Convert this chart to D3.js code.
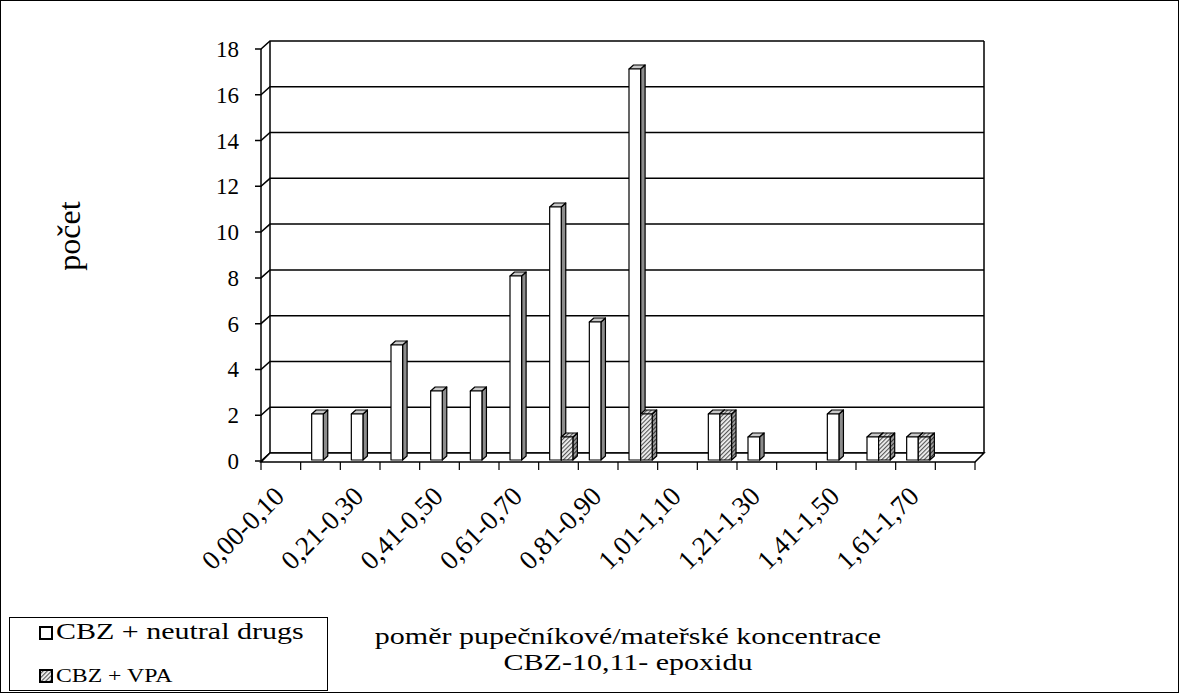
<!DOCTYPE html>
<html lang="cs">
  <head>
    <meta charset="UTF-8" />
    <title>Poměr pupečníkové/mateřské koncentrace CBZ-10,11-epoxidu</title>
    <style>
      body {
        margin: 0;
        background: #fff;
      }
      svg {
        display: block;
        font-family: 'Liberation Serif', 'Times New Roman', serif;
      }
    </style>
  </head>
  <body>
    <svg width="1180" height="694"></svg>
    <script src="https://cdn.jsdelivr.net/npm/d3@7"></script>
    <script>
      const categories = [
        '0,00-0,10', '0,11-0,20', '0,21-0,30', '0,31-0,40', '0,41-0,50',
        '0,51-0,60', '0,61-0,70', '0,71-0,80', '0,81-0,90', '0,91-1,00',
        '1,01-1,10', '1,11-1,20', '1,21-1,30', '1,31-1,40', '1,41-1,50',
        '1,51-1,60', '1,61-1,70', '1,71-1,80'
      ];
      const neutralDrugs = [0, 2, 2, 5, 3, 3, 8, 11, 6, 17, 0, 2, 1, 0, 2, 1, 1, 0];
      const vpa = [0, 0, 0, 0, 0, 0, 0, 1, 0, 2, 0, 2, 0, 0, 0, 1, 1, 0];
      const yTicks = [0, 2, 4, 6, 8, 10, 12, 14, 16, 18];
      const seriesNames = ['CBZ + neutral drugs', 'CBZ + VPA'];
      const yTitle = 'počet';
      const xTitle = ['poměr pupečníkové/mateřské koncentrace', 'CBZ-10,11- epoxidu'];

      const svg = d3.select('svg'),
        width = +svg.attr('width'),
        height = +svg.attr('height');

      // 3d offsets: wall depth and bar depth
      const wdx = 9, wdy = 8;
      const bdx = 4.5, bdy = 4;

      const x = d3.scaleBand().domain(categories).range([261, 975]);
      const xs = d3.scaleBand().domain([0, 1]).range([11, 34.2]);
      const y = d3.scaleLinear().domain([0, 18]).range([461, 49]);
      const yBar = d3.scaleLinear().domain([0, 18]).range([460, 46]);

      const defs = svg.append('defs');
      const hatch = (id, bg, fg) => {
        const p = defs
          .append('pattern')
          .attr('id', id)
          .attr('width', 3)
          .attr('height', 3)
          .attr('patternUnits', 'userSpaceOnUse')
          .attr('patternTransform', 'rotate(-45)');
        p.append('rect').attr('width', 3).attr('height', 3).attr('fill', bg);
        p.append('rect').attr('width', 3).attr('height', 1.1).attr('fill', fg);
      };
      hatch('hatch', '#f0f0f0', '#555');
      hatch('hatchDark', '#a0a0a0', '#333');
      hatch('hatchTop', '#d8d8d8', '#555');

      svg
        .append('rect')
        .attr('x', 0.5)
        .attr('y', 0.5)
        .attr('width', width - 2)
        .attr('height', height - 2)
        .attr('fill', 'none')
        .attr('stroke', '#000');

      const [x0, x1] = x.range();
      const grid = svg.append('g').attr('stroke', '#000').attr('stroke-width', 1.5);

      // back wall and side wall gridlines
      grid
        .selectAll('.grid')
        .data(yTicks)
        .enter()
        .append('path')
        .attr('fill', 'none')
        .attr(
          'd',
          (d) =>
            `M${x0 - 6},${y(d)}H${x0}L${x0 + wdx},${y(d) - wdy}H${x1 + wdx}`
        );

      grid
        .append('path')
        .attr('fill', 'none')
        .attr(
          'd',
          `M${x0 + wdx},${y(18) - wdy}V${y(0) - wdy}M${x1 + wdx},${y(18) - wdy}V${y(0) - wdy}`
        );

      // floor
      grid
        .append('path')
        .attr('fill', '#fff')
        .attr(
          'd',
          `M${x0},${y(0) + 1}H${x1}L${x1 + wdx},${y(0) - wdy}H${x0 + wdx}Z`
        );

      // front axis line
      grid
        .append('path')
        .attr('fill', 'none')
        .attr('d', `M${x0},${y(18)}V${y(0) + 1}`);

      // x ticks
      grid
        .selectAll('.xtick')
        .data(categories.concat(['end']))
        .enter()
        .append('path')
        .attr('stroke-width', 1.2)
        .attr('d', (d, i) => {
          const px = x0 + i * x.bandwidth();
          return `M${px},${y(0) + 1}V${y(0) + 9}`;
        });

      // bars
      const bars = categories
        .flatMap((c, i) => [
          { c, s: 0, v: neutralDrugs[i] },
          { c, s: 1, v: vpa[i] }
        ])
        .filter((d) => d.v > 0);

      const fills = [
        { front: '#fff', side: '#8c8c8c', top: '#c8c8c8' },
        { front: 'url(#hatch)', side: 'url(#hatchDark)', top: 'url(#hatchTop)' }
      ];

      const bar = svg
        .append('g')
        .attr('stroke', '#000')
        .attr('stroke-width', 1.2)
        .attr('stroke-linejoin', 'round')
        .selectAll('g')
        .data(bars)
        .enter()
        .append('g');

      bar.each(function (d) {
        const g = d3.select(this);
        const bx = x(d.c) + xs(d.s),
          bw = xs.bandwidth(),
          yt = yBar(d.v),
          yb = yBar(0);
        g.append('path')
          .attr('fill', fills[d.s].side)
          .attr(
            'd',
            `M${bx + bw},${yt}L${bx + bw + bdx},${yt - bdy}V${yb - bdy}L${bx + bw},${yb}Z`
          );
        g.append('path')
          .attr('fill', fills[d.s].top)
          .attr(
            'd',
            `M${bx},${yt}L${bx + bdx},${yt - bdy}H${bx + bw + bdx}L${bx + bw},${yt}Z`
          );
        g.append('rect')
          .attr('x', bx)
          .attr('y', yt)
          .attr('width', bw)
          .attr('height', yb - yt)
          .attr('fill', fills[d.s].front);
      });

      // y tick labels
      svg
        .append('g')
        .selectAll('text')
        .data(yTicks)
        .enter()
        .append('text')
        .attr('x', 239)
        .attr('y', (d) => y(d))
        .attr('dy', '0.35em')
        .attr('text-anchor', 'end')
        .attr('font-size', 23)
        .text((d) => d);

      // x tick labels, every other category
      svg
        .append('g')
        .selectAll('text')
        .data(categories.filter((d, i) => i % 2 === 0))
        .enter()
        .append('text')
        .attr(
          'transform',
          (d) => `translate(${x(d) + x.bandwidth() / 2 + 5},498) rotate(-45)`
        )
        .attr('text-anchor', 'end')
        .attr('font-size', 27)
        .text((d) => d);

      svg
        .append('text')
        .attr('transform', 'translate(80,236) rotate(-90)')
        .attr('text-anchor', 'middle')
        .attr('font-size', 32)
        .text(yTitle);

      svg
        .append('g')
        .selectAll('text')
        .data(xTitle)
        .enter()
        .append('text')
        .attr('transform', (d, i) => `translate(628,${644 + i * 26}) scale(1.25,1)`)
        .attr('text-anchor', 'middle')
        .attr('font-size', 24)
        .text((d) => d);

      // legend
      const legend = svg.append('g').attr('id', 'legend');
      legend
        .append('rect')
        .attr('x', 9.5)
        .attr('y', 617.5)
        .attr('width', 318)
        .attr('height', 73)
        .attr('fill', '#fff')
        .attr('stroke', '#000');

      const item = legend
        .selectAll('.item')
        .data(seriesNames)
        .enter()
        .append('g')
        .attr('transform', (d, i) => `translate(0,${i * 43})`);

      item
        .append('rect')
        .attr('x', 40)
        .attr('y', 627)
        .attr('width', 12)
        .attr('height', 12)
        .attr('fill', (d, i) => fills[i].front)
        .attr('stroke', '#000')
        .attr('stroke-width', 2);

      item
        .append('text')
        .attr('transform', (d, i) => `translate(56,${639 - i * 0.5}) scale(1.25,1)`)
        .attr('font-size', (d, i) => (i === 0 ? 24 : 19))
        .text((d) => d);
    </script>
  </body>
</html>
